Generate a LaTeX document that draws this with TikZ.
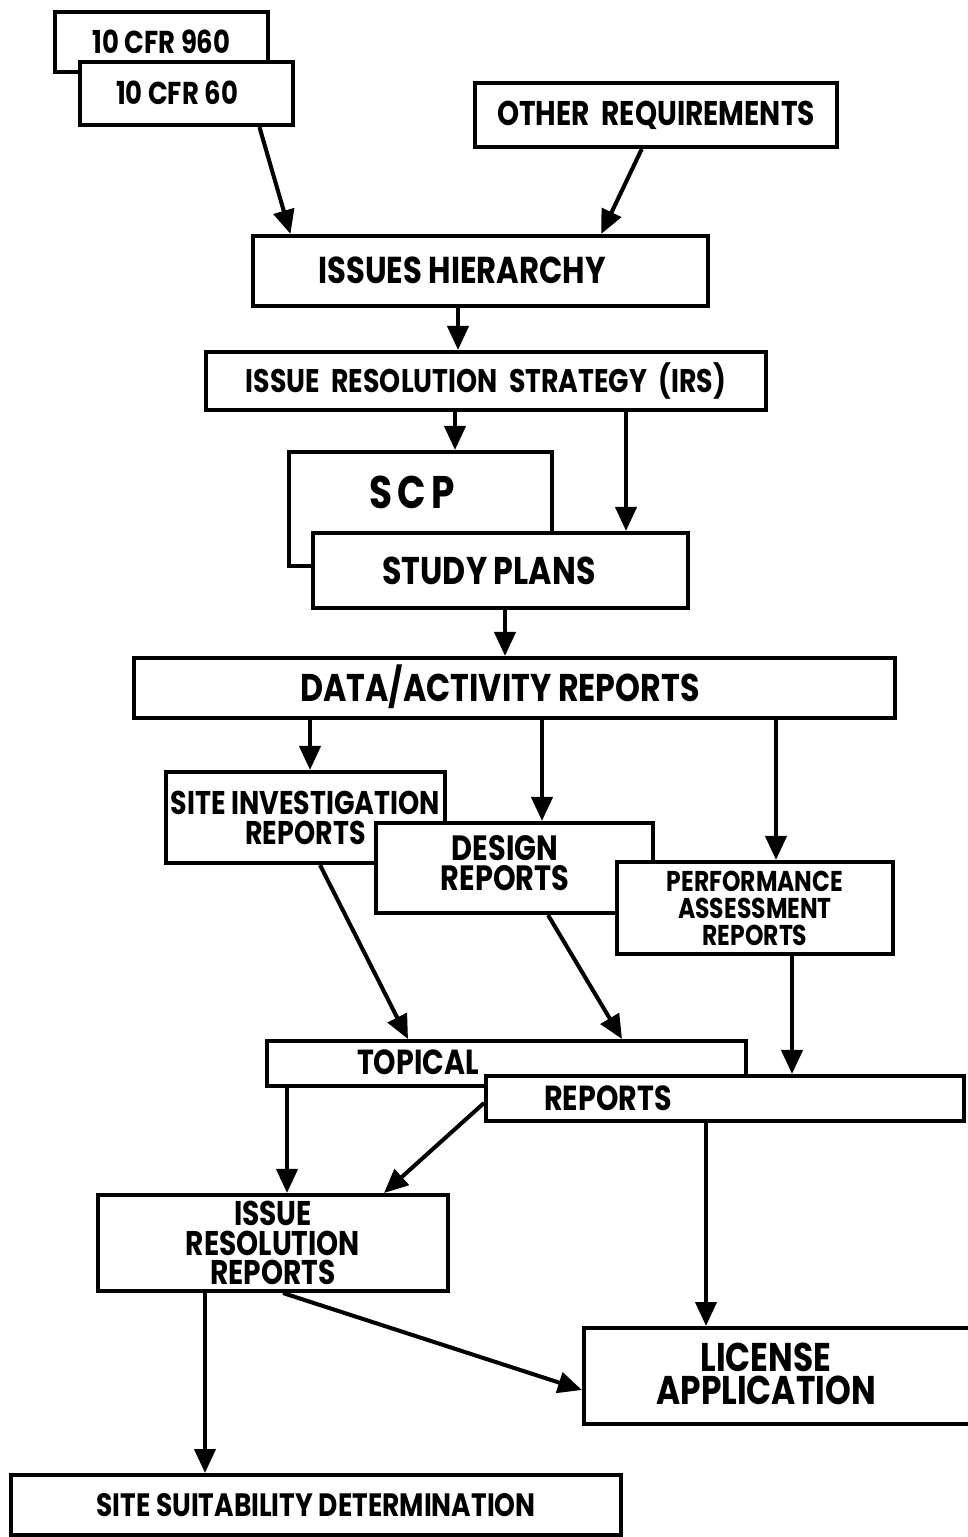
\documentclass[tikz,border=0pt]{standalone}
\usepackage{fontspec}
\setmainfont{Poppins}[FakeStretch=0.82]
\usetikzlibrary{calc,arrows.meta}

\begin{document}
\begin{tikzpicture}[x=0.02cm,y=-0.02cm,
		box/.style={draw,line width=2.3pt,fill=white,inner sep=0pt,align=center},
		sz/.style 2 args={minimum width=#1*0.02cm,minimum height=#2*0.02cm},
		fs/.style 2 args={font=\bfseries\fontsize{#1}{#2}\selectfont},
		lbl/.style={inner sep=0pt,align=center},
		arr/.style={line width=2.3pt,-{Triangle[length=0.48cm,width=0.42cm]}}]
	\useasboundingbox (0,0) rectangle (967,1537);
	% requirements
	\node[box,sz={213}{60},fs={18}{20}] (c960) at (161.5,42) {10 CFR 960};
	\node[box,sz={213}{63}] (c60) at (186.5,93.5) {};
	\node[lbl,fs={18}{20}] (c60txt) at (177,93) {10 CFR 60};
	\node[box,sz={362}{64},fs={19.5}{22}] (other) at (656,115) {OTHER\ \ REQUIREMENTS};
	\node[box,sz={455}{70}] (hier) at (480.5,271) {};
	\node[lbl,fs={21.3}{24}] (hiertxt) at (462,270) {ISSUES HIERARCHY};
	\node[box,sz={560}{58},fs={18.6}{22}] (irs) at (486,381) {ISSUE\ \ RESOLUTION\ \ STRATEGY\ \ (IRS)};
	% plans
	\node[box,sz={263}{114}] (scp) at (420.5,509) {};
	\node[lbl,fs={26}{28}] (scptxt) at (412,492) {\addfontfeatures{LetterSpace=12}SCP};
	\node[box,sz={375}{75}] (plans) at (500.5,570.5) {};
	\node[lbl,fs={22}{24}] (planstxt) at (489,571) {STUDY PLANS};
	\node[box,sz={761}{60}] (data) at (514.5,688) {};
	\node[lbl,fs={22}{24}] (datatxt) at (500,687) {DATA/ACTIVITY REPORTS};
	% reports
	\node[box,sz={279}{91},fs={18.7}{17}] (site) at (305.5,817.5) {SITE INVESTIGATION\\REPORTS};
	\node[box,sz={277}{90}] (design) at (514.5,868) {};
	\node[lbl,fs={20}{17.5}] (designtxt) at (505,863) {DESIGN\\REPORTS};
	\node[box,sz={276}{92},fs={16.3}{15.4}] (perf) at (755,908) {PERFORMANCE\\ASSESSMENT\\REPORTS};
	\node[box,sz={479}{45}] (topical) at (506.5,1063.5) {};
	\node[lbl,fs={19.8}{20}] (toptxt) at (418,1062) {TOPICAL};
	\node[box,sz={478}{45}] (reports) at (725,1098.5) {};
	\node[lbl,fs={19.8}{20}] (reptxt) at (608,1098) {REPORTS};
	\node[box,sz={350}{96},fs={19.5}{17}] (irr) at (273,1243) {ISSUE\\RESOLUTION\\REPORTS};
	\node[box,sz={412}{96}] (lic) at (790,1376) {};
	\node[lbl,fs={22.8}{19}] (lictxt) at (766,1374) {LICENSE\\APPLICATION};
	\node[box,sz={610}{60},fs={18.4}{22}] (ssd) at (316,1505) {SITE SUITABILITY DETERMINATION};
	% connectors
	\draw[arr] ($(c60.south west)!.836!(c60.south east)$) -- ($(hier.north west)!.086!(hier.north east)$);
	\draw[arr] ($(other.south west)!.461!(other.south east)$) -- ($(hier.north west)!.763!(hier.north east)$);
	\draw[arr] (hier.south -| 458,0) -- (irs.north -| 458,0);
	\draw[arr] (irs.south -| 455,0) -- (scp.north -| 455,0);
	\draw[arr] (irs.south -| 626,0) -- (plans.north -| 626,0);
	\draw[arr] (plans.south -| 505,0) -- (data.north -| 505,0);
	\draw[arr] (data.south -| 310,0) -- (site.north -| 310,0);
	\draw[arr] (data.south -| 542,0) -- (design.north -| 542,0);
	\draw[arr] (data.south -| 776,0) -- (perf.north -| 776,0);
	\draw[arr] (site.south -| 320,0) -- (topical.north -| 408,0);
	\draw[arr] (design.south -| 548,0) -- (topical.north -| 622,0);
	\draw[arr] (perf.south -| 792,0) -- (reports.north -| 792,0);
	\draw[arr] (topical.south -| 287,0) -- (irr.north -| 287,0);
	\draw[arr] (reports.west |- 0,1103) -- (irr.north -| 384,0);
	\draw[arr] (reports.south -| 706,0) -- (lic.north -| 706,0);
	\draw[arr] (irr.south -| 283,0) -- (lic.west |- 0,1390);
	\draw[arr] (irr.south -| 205,0) -- (ssd.north -| 205,0);
\end{tikzpicture}
\end{document}
